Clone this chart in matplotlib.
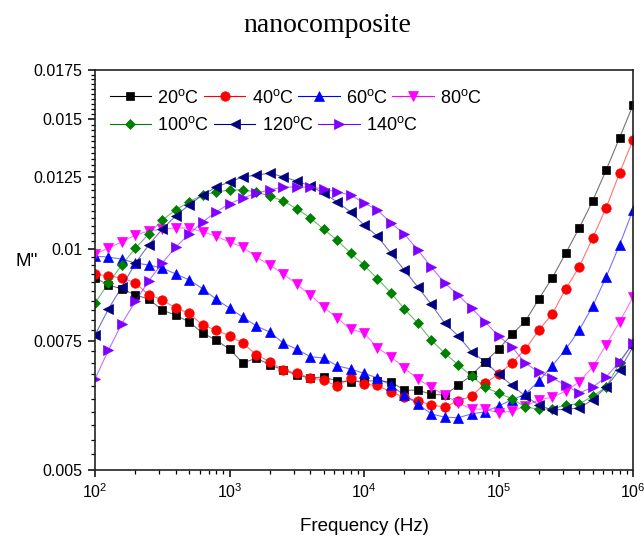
import numpy as np
import matplotlib
matplotlib.use('Agg')
import matplotlib.pyplot as plt
from matplotlib.ticker import FixedLocator, FixedFormatter, NullFormatter

plt.rcParams['font.family'] = ['Liberation Sans', 'DejaVu Sans']
plt.rcParams['mathtext.fontset'] = 'custom'
plt.rcParams['mathtext.rm'] = 'Liberation Sans'
plt.rcParams['mathtext.it'] = 'Liberation Sans:italic'
plt.rcParams['mathtext.bf'] = 'Liberation Sans:bold'

# frequency grid (Hz), 10 points per decade
freq = [100, 126, 158, 200, 251, 316, 398, 501, 631, 794,
        1000, 1259, 1585, 1995, 2512, 3162, 3981, 5012, 6310, 7943,
        10000, 12589, 15849, 19953, 25119, 31623, 39811, 50119, 63096, 79433,
        100000, 125893, 158489, 199526, 251189, 316228, 398107, 501187, 630957, 794328,
        1000000]

# M'' values in units of 1e-3
m20 = [9.13, 8.92, 8.82, 8.65, 8.54, 8.25, 8.12, 7.95, 7.68, 7.51,
       7.30, 6.99, 7.10, 6.95, 6.84, 6.73, 6.67, 6.69, 6.61, 6.59,
       6.61, 6.61, 6.59, 6.42, 6.42, 6.34, 6.32, 6.52, 6.73, 7.02,
       7.30, 7.65, 7.97, 8.54, 9.13, 9.86, 10.67, 11.61, 12.79, 14.15,
       15.68]
m40 = [9.24, 9.18, 9.13, 8.98, 8.65, 8.52, 8.30, 8.17, 7.87, 7.75,
       7.61, 7.44, 7.17, 7.02, 6.84, 6.77, 6.67, 6.63, 6.50, 6.67,
       6.54, 6.52, 6.38, 6.28, 6.21, 6.13, 6.09, 6.21, 6.30, 6.56,
       6.75, 6.99, 7.30, 7.75, 8.15, 8.82, 9.44, 10.34, 11.36, 12.67,
       14.06]
m60 = [9.77, 9.74, 9.68, 9.56, 9.50, 9.41, 9.24, 9.07, 8.82, 8.54,
       8.30, 8.07, 7.85, 7.70, 7.44, 7.30, 7.13, 7.10, 6.93, 6.86,
       6.77, 6.67, 6.52, 6.32, 6.15, 5.96, 5.90, 5.89, 5.96, 6.00,
       6.11, 6.23, 6.34, 6.61, 6.93, 7.30, 7.75, 8.35, 9.15, 10.12,
       11.29]
m80 = [9.83, 10.02, 10.21, 10.44, 10.57, 10.63, 10.67, 10.67, 10.54, 10.40,
       10.21, 10.05, 9.74, 9.50, 9.24, 8.95, 8.65, 8.33, 8.05, 7.77,
       7.68, 7.33, 7.13, 6.88, 6.65, 6.48, 6.32, 6.17, 6.05, 6.05,
       5.98, 6.01, 6.11, 6.23, 6.28, 6.40, 6.59, 6.90, 7.40, 7.95,
       8.59]
m100 = [8.43, 8.98, 9.50, 10.02, 10.47, 10.94, 11.29, 11.58, 11.83, 11.94,
        12.02, 12.02, 11.94, 11.79, 11.61, 11.33, 11.01, 10.63, 10.27, 9.86,
        9.50, 9.10, 8.71, 8.28, 7.92, 7.51, 7.21, 6.95, 6.71, 6.48,
        6.36, 6.25, 6.09, 6.05, 6.05, 6.13, 6.15, 6.30, 6.48, 6.99,
        7.44]
m120 = [7.63, 8.28, 8.87, 9.56, 10.12, 10.63, 11.08, 11.47, 11.83, 12.13,
        12.32, 12.52, 12.59, 12.67, 12.52, 12.36, 12.17, 11.90, 11.58, 11.22,
        10.77, 10.40, 9.86, 9.35, 8.87, 8.40, 7.92, 7.61, 7.24, 7.02,
        6.75, 6.52, 6.30, 6.13, 6.03, 6.05, 6.07, 6.23, 6.48, 6.84,
        7.35]
m140 = [6.65, 7.28, 7.90, 8.49, 9.04, 9.56, 10.05, 10.47, 10.87, 11.22,
        11.51, 11.72, 11.90, 12.02, 12.13, 12.13, 12.13, 12.06, 11.94, 11.83,
        11.54, 11.29, 10.84, 10.47, 9.96, 9.44, 8.98, 8.65, 8.30, 7.95,
        7.61, 7.35, 6.99, 6.79, 6.67, 6.52, 6.36, 6.48, 6.69, 7.02,
        7.44]

labels = ['20', '40', '60', '80', '100', '120', '140']
series = [m20, m40, m60, m80, m100, m120, m140]
colors = ['#000000', '#ff0000', '#0000ff', '#ff00ff', '#008000', '#000080', '#8000ff']
markers = ['s', 'o', '^', 'v', 'D', '<', '>']
msizes = [6.0, 6.8, 7.2, 7.2, 5.6, 7.2, 7.2]

ytick_vals = [0.005, 0.0075, 0.01, 0.0125, 0.015, 0.0175]
ytick_labels = ['0.005', '0.0075', '0.01', '0.0125', '0.015', '0.0175']

fig = plt.figure(figsize=(6.44, 5.39), dpi=100)
ax = fig.add_axes([95 / 644, 69 / 539, 538 / 644, 400 / 539])

handles = []
names = []
for lab, vals, c, mk, ms in zip(labels, series, colors, markers, msizes):
    y = np.array(vals) * 1e-3
    ax.plot(freq, y, '-', color=c, lw=0.8, alpha=0.55)
    ax.plot(freq, y, ls='none', marker=mk, ms=ms, color=c, mec=c, mew=0.5)
    h, = ax.plot([], [], '-', color=c, lw=0.8, marker=mk, ms=ms, mec=c, mew=0.5)
    handles.append(h)
    names.append(lab + r'$^{\rm o}$C')

ax.set_xscale('log')
ax.set_yscale('log')
ax.set_xlim(100, 1e6)
ax.set_ylim(0.005, 0.0175)

ax.set_xticks([1e2, 1e3, 1e4, 1e5, 1e6])
ax.set_xticklabels([r'10$^{2}$', r'10$^{3}$', r'10$^{4}$', r'10$^{5}$', r'10$^{6}$'])
ax.yaxis.set_major_locator(FixedLocator(ytick_vals))
ax.yaxis.set_major_formatter(FixedFormatter(ytick_labels))
ax.yaxis.set_minor_locator(FixedLocator(np.arange(0.005, 0.01751, 0.00025)))
ax.yaxis.set_minor_formatter(NullFormatter())

ax.tick_params(which='major', direction='out', length=5, width=1.1, labelsize=11.5,
               top=False, right=False, pad=4)
ax.tick_params(which='minor', direction='out', length=3, width=0.9, top=False, right=False)
for sp in ax.spines.values():
    sp.set_linewidth(1.2)
    sp.set_color('#222222')

ax.set_xlabel('Frequency (Hz)', fontsize=13.5, labelpad=12)
fig.text(27 / 644, 1 - 262 / 539, "M''", ha='center', va='center', fontsize=13.5)

# legend in two rows, like the original (4 entries, then 3)
leg_kw = dict(loc='upper left', frameon=False, fontsize=13, handlelength=2.3,
              handletextpad=0.35, columnspacing=0.25, borderaxespad=0, borderpad=0)
leg1 = ax.legend(handles[:4], names[:4], ncol=4, bbox_to_anchor=(0.027, 0.953), **leg_kw)
ax.add_artist(leg1)
ax.legend(handles[4:], names[4:], ncol=3, bbox_to_anchor=(0.027, 0.885), **leg_kw)

fig.text(327 / 644, 1 - 25 / 539, 'nanocomposite', ha='center', va='center',
         family='Liberation Serif', fontsize=20)

fig.savefig('out.png', dpi=100)
